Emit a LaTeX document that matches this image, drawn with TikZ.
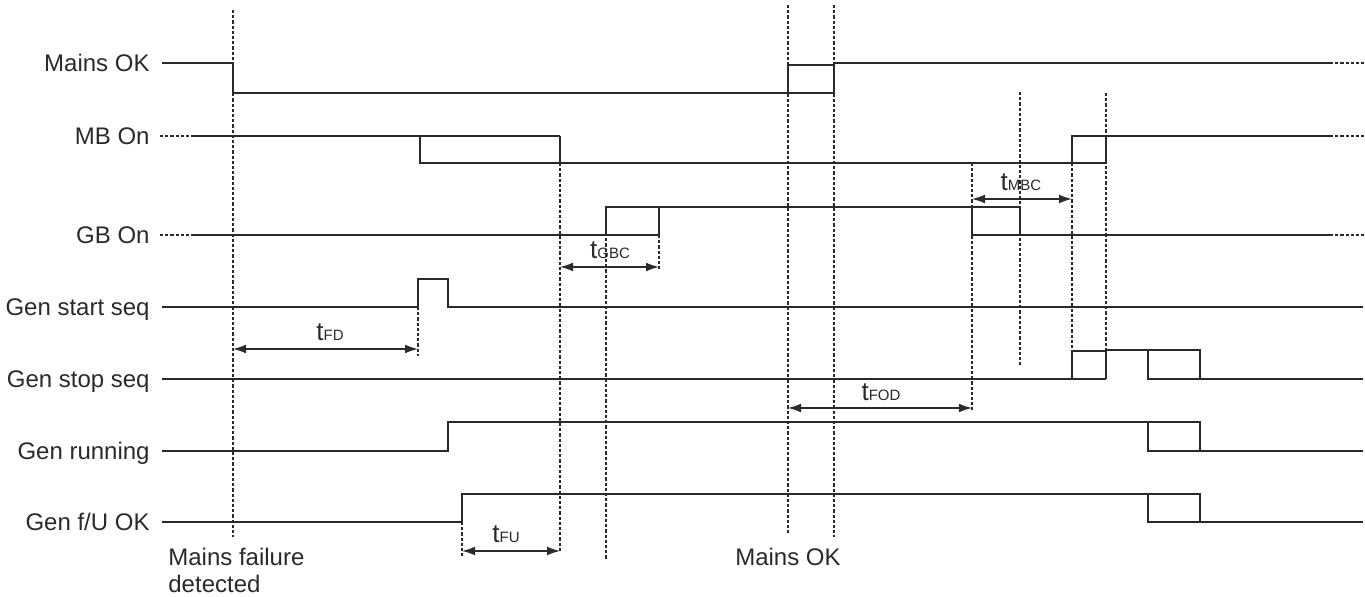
\documentclass[tikz,border=0pt]{standalone}
\usepackage{fontspec}
\setmainfont{Liberation Sans}
\usetikzlibrary{arrows.meta}
\definecolor{ink}{HTML}{2A2A2A}
\newcommand{\tsubs}[1]{{\fontsize{13}{15}\selectfont t}{\fontsize{7.5}{9}\selectfont #1}}
\begin{document}
\begin{tikzpicture}[x=0.5pt,y=-0.5pt,
  sig/.style={draw=ink,line width=1.4pt,line join=miter},
  unc/.style={draw=ink,line width=0.7pt},
  guide/.style={draw=ink,line width=0.55pt,dash pattern=on 1.6pt off 1pt},
  cont/.style={draw=ink,line width=1.3pt,dash pattern=on 1.6pt off 1pt},
  dim/.style={draw=ink,line width=0.65pt,{Latex[length=6.5pt,width=4.4pt]}-{Latex[length=6.5pt,width=4.4pt]}},
  rowlbl/.style={anchor=base east,font=\fontsize{12}{14}\selectfont,text=ink,inner sep=0pt},
  txt/.style={anchor=base west,font=\fontsize{12}{14}\selectfont,text=ink,inner sep=0pt},
  tlbl/.style={anchor=base,text=ink,inner sep=0pt}]
\useasboundingbox (0,0) rectangle (1365,597);

% row labels
\node[rowlbl] (lMains) at (150,71.5) {Mains OK};
\node[rowlbl] (lMB)    at (150,144.5) {MB On};
\node[rowlbl] (lGB)    at (150,243.5) {GB On};
\node[rowlbl] (lGsta)  at (150,315.5) {Gen start seq};
\node[rowlbl] (lGsto)  at (150,387.5) {Gen stop seq};
\node[rowlbl] (lGrun)  at (150,459.5) {Gen running};
\node[rowlbl] (lGfu)   at (150,530.5) {Gen f/U OK};

% guide lines
\draw[guide] (233,10) -- (233,537);
\draw[guide] (788,5) -- (788,535);
\draw[guide] (834,5) -- (834,537);
\draw[guide] (560,163) -- (560,553);
\draw[guide] (606,207) -- (606,559);
\draw[guide] (659,235) -- (659,270);
\draw[guide] (418,307) -- (418,356);
\draw[guide] (462,522) -- (462,557);
\draw[guide] (972,163) -- (972,410);
\draw[guide] (1020,92) -- (1020,365);
\draw[guide] (1072,163) -- (1072,351);
\draw[guide] (1106,93) -- (1106,349);

% Mains OK
\draw[sig] (162,63) -- (233,63) -- (233,93) -- (788,93);
\draw[unc] (788,93) -- (834,93) (788,93) -- (788,65) -- (834,65);
\draw[sig] (834,93) -- (834,63) -- (1330,63);
\draw[cont] (1330,63) -- (1365,63);

% MB On
\draw[cont] (160,136) -- (191,136);
\draw[sig] (191,136) -- (420,136);
\draw[unc] (420,136) -- (560,136) (420,136) -- (420,163) -- (560,163);
\draw[sig] (560,136) -- (560,163) -- (1072,163);
\draw[unc] (1072,163) -- (1106,163) (1072,163) -- (1072,136) -- (1106,136);
\draw[sig] (1106,163) -- (1106,136) -- (1330,136);
\draw[cont] (1330,136) -- (1365,136);

% GB On
\draw[cont] (160,235) -- (191,235);
\draw[sig] (191,235) -- (606,235);
\draw[unc] (606,235) -- (659,235) (606,235) -- (606,207) -- (659,207);
\draw[sig] (659,235) -- (659,207) -- (972,207);
\draw[unc] (972,207) -- (1020,207) (972,207) -- (972,235) -- (1020,235);
\draw[sig] (1020,207) -- (1020,235) -- (1330,235);
\draw[cont] (1330,235) -- (1365,235);

% Gen start seq
\draw[sig] (162,307) -- (418,307) -- (418,279) -- (448,279) -- (448,307) -- (1363,307);

% Gen stop seq
\draw[sig] (162,379) -- (1072,379);
\draw[unc] (1072,379) -- (1106,379) (1072,379) -- (1072,351) -- (1106,351);
\draw[unc] (1106,379) -- (1106,350) -- (1148,350);
\draw[unc] (1148,350) -- (1200,350) -- (1200,379) (1148,350) -- (1148,379) -- (1200,379);
\draw[sig] (1200,379) -- (1363,379);

% Gen running
\draw[sig] (162,451) -- (448,451) -- (448,422) -- (1148,422);
\draw[unc] (1148,422) -- (1200,422) -- (1200,451) (1148,422) -- (1148,451) -- (1200,451);
\draw[sig] (1200,451) -- (1363,451);

% Gen f/U OK
\draw[sig] (162,522) -- (462,522) -- (462,494) -- (1148,494);
\draw[unc] (1148,494) -- (1200,494) -- (1200,522) (1148,494) -- (1148,522) -- (1200,522);
\draw[sig] (1200,522) -- (1363,522);

% timing dimensions
\coordinate (fdA) at (233,349); \coordinate (fdB) at (418,349);
\draw[dim] (fdA) -- (fdB);
\node[tlbl] (tFD) at (330,341) {\tsubs{FD}};

\coordinate (gbA) at (560,267); \coordinate (gbB) at (659,267);
\draw[dim] (gbA) -- (gbB);
\node[tlbl] (tGBC) at (610,259) {\tsubs{GBC}};

\coordinate (mbA) at (972,199); \coordinate (mbB) at (1072,199);
\draw[dim] (mbA) -- (mbB);
\node[tlbl] (tMBC) at (1021,191) {\tsubs{MBC}};

\coordinate (foA) at (788,408); \coordinate (foB) at (972,408);
\draw[dim] (foA) -- (foB);
\node[tlbl] (tFOD) at (881,401) {\tsubs{FOD}};

\coordinate (fuA) at (462,551); \coordinate (fuB) at (560,551);
\draw[dim] (fuA) -- (fuB);
\node[tlbl] (tFU) at (506,543) {\tsubs{FU}};

% event labels
\node[txt] (evFail) at (168,566) {Mains failure};
\node[txt] (evDet)  at (168,593) {detected};
\node[txt,anchor=base] (evOK) at (788,566) {Mains OK};
\end{tikzpicture}
\end{document}
